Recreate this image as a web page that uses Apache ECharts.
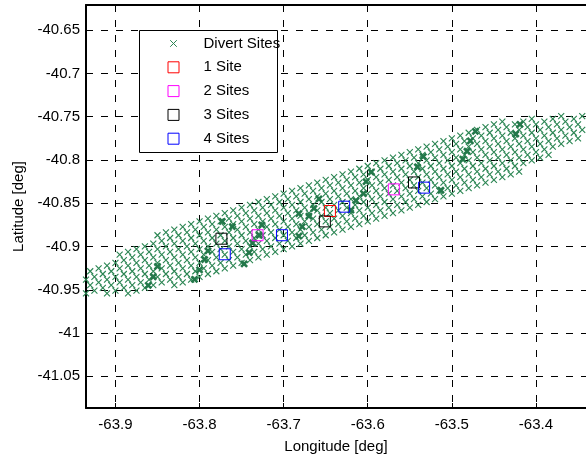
<!DOCTYPE html>
<html>
<head>
<meta charset="utf-8">
<script src="https://cdn.jsdelivr.net/npm/echarts@6/dist/echarts.min.js"></script>
<style>
  html, body { margin: 0; padding: 0; background: #fff; }
  #chart { width: 586px; height: 459px; }
</style>
</head>
<body>
<div id="chart"></div>
<script>
// Tick values shown on each axis
const lonTicks = [-63.9, -63.8, -63.7, -63.6, -63.5, -63.4];
const latTicks = [-41.05, -41, -40.95, -40.9, -40.85, -40.8, -40.75, -40.7, -40.65];

// Divert site grid, one array per row across the footprint [lon, lat]
const divertRow0 = [[-63.85,-40.887],[-63.84,-40.8838],[-63.83,-40.8806],[-63.82,-40.8774],[-63.81,-40.8742],[-63.8,-40.871],[-63.79,-40.8678],[-63.78,-40.8646],[-63.77,-40.8614],[-63.76,-40.8582],[-63.75,-40.855],[-63.74,-40.8518],[-63.73,-40.8486],[-63.72,-40.8454],[-63.71,-40.8422],[-63.7,-40.839],[-63.69,-40.8358],[-63.68,-40.8326],[-63.67,-40.8294],[-63.66,-40.8262],[-63.65,-40.823],[-63.64,-40.8198],[-63.63,-40.8166],[-63.62,-40.8134],[-63.61,-40.8102],[-63.6,-40.807],[-63.59,-40.8038],[-63.58,-40.8006],[-63.57,-40.7974],[-63.56,-40.7942],[-63.55,-40.791],[-63.54,-40.7878],[-63.53,-40.7846],[-63.52,-40.7814],[-63.51,-40.7782],[-63.5,-40.775],[-63.49,-40.7718],[-63.48,-40.7686],[-63.47,-40.7654],[-63.46,-40.7622],[-63.45,-40.759],[-63.44,-40.7558]];
const divertRow1 = [[-63.895,-40.9094],[-63.885,-40.9062],[-63.875,-40.903],[-63.865,-40.8998],[-63.855,-40.8966],[-63.845,-40.8934],[-63.835,-40.8902],[-63.825,-40.887],[-63.815,-40.8838],[-63.805,-40.8806],[-63.795,-40.8774],[-63.785,-40.8742],[-63.775,-40.871],[-63.765,-40.8678],[-63.755,-40.8646],[-63.745,-40.8614],[-63.735,-40.8582],[-63.725,-40.855],[-63.715,-40.8518],[-63.705,-40.8486],[-63.695,-40.8454],[-63.685,-40.8422],[-63.675,-40.839],[-63.665,-40.8358],[-63.655,-40.8326],[-63.645,-40.8294],[-63.635,-40.8262],[-63.625,-40.823],[-63.615,-40.8198],[-63.605,-40.8166],[-63.595,-40.8134],[-63.585,-40.8102],[-63.575,-40.807],[-63.565,-40.8038],[-63.555,-40.8006],[-63.545,-40.7974],[-63.535,-40.7942],[-63.525,-40.791],[-63.515,-40.7878],[-63.505,-40.7846],[-63.495,-40.7814],[-63.485,-40.7782],[-63.475,-40.775],[-63.465,-40.7718],[-63.455,-40.7686],[-63.445,-40.7654],[-63.435,-40.7622],[-63.425,-40.759],[-63.415,-40.7558],[-63.405,-40.7526]];
const divertRow2 = [[-63.93,-40.9286],[-63.92,-40.9254],[-63.91,-40.9222],[-63.9,-40.919],[-63.89,-40.9158],[-63.88,-40.9126],[-63.87,-40.9094],[-63.86,-40.9062],[-63.85,-40.903],[-63.84,-40.8998],[-63.83,-40.8966],[-63.82,-40.8934],[-63.81,-40.8902],[-63.8,-40.887],[-63.79,-40.8838],[-63.78,-40.8806],[-63.77,-40.8774],[-63.76,-40.8742],[-63.75,-40.871],[-63.74,-40.8678],[-63.73,-40.8646],[-63.72,-40.8614],[-63.71,-40.8582],[-63.7,-40.855],[-63.69,-40.8518],[-63.68,-40.8486],[-63.67,-40.8454],[-63.66,-40.8422],[-63.65,-40.839],[-63.64,-40.8358],[-63.63,-40.8326],[-63.62,-40.8294],[-63.61,-40.8262],[-63.6,-40.823],[-63.59,-40.8198],[-63.58,-40.8166],[-63.57,-40.8134],[-63.56,-40.8102],[-63.55,-40.807],[-63.54,-40.8038],[-63.53,-40.8006],[-63.52,-40.7974],[-63.51,-40.7942],[-63.5,-40.791],[-63.49,-40.7878],[-63.48,-40.7846],[-63.47,-40.7814],[-63.46,-40.7782],[-63.45,-40.775],[-63.44,-40.7718],[-63.43,-40.7686],[-63.42,-40.7654],[-63.41,-40.7622],[-63.4,-40.759],[-63.39,-40.7558],[-63.38,-40.7526],[-63.37,-40.7494]];
const divertRow3 = [[-63.935,-40.9382],[-63.925,-40.935],[-63.915,-40.9318],[-63.905,-40.9286],[-63.895,-40.9254],[-63.885,-40.9222],[-63.875,-40.919],[-63.865,-40.9158],[-63.855,-40.9126],[-63.845,-40.9094],[-63.835,-40.9062],[-63.825,-40.903],[-63.815,-40.8998],[-63.805,-40.8966],[-63.795,-40.8934],[-63.785,-40.8902],[-63.775,-40.887],[-63.765,-40.8838],[-63.755,-40.8806],[-63.745,-40.8774],[-63.735,-40.8742],[-63.725,-40.871],[-63.715,-40.8678],[-63.705,-40.8646],[-63.695,-40.8614],[-63.685,-40.8582],[-63.675,-40.855],[-63.665,-40.8518],[-63.655,-40.8486],[-63.645,-40.8454],[-63.635,-40.8422],[-63.625,-40.839],[-63.615,-40.8358],[-63.605,-40.8326],[-63.595,-40.8294],[-63.585,-40.8262],[-63.575,-40.823],[-63.565,-40.8198],[-63.555,-40.8166],[-63.545,-40.8134],[-63.535,-40.8102],[-63.525,-40.807],[-63.515,-40.8038],[-63.505,-40.8006],[-63.495,-40.7974],[-63.485,-40.7942],[-63.475,-40.791],[-63.465,-40.7878],[-63.455,-40.7846],[-63.445,-40.7814],[-63.435,-40.7782],[-63.425,-40.775],[-63.415,-40.7718],[-63.405,-40.7686],[-63.395,-40.7654],[-63.385,-40.7622],[-63.375,-40.759],[-63.365,-40.7558],[-63.355,-40.7526],[-63.345,-40.7494]];
const divertRow4 = [[-63.93,-40.9446],[-63.92,-40.9414],[-63.91,-40.9382],[-63.9,-40.935],[-63.89,-40.9318],[-63.88,-40.9286],[-63.87,-40.9254],[-63.86,-40.9222],[-63.85,-40.919],[-63.84,-40.9158],[-63.83,-40.9126],[-63.82,-40.9094],[-63.81,-40.9062],[-63.8,-40.903],[-63.79,-40.8998],[-63.78,-40.8966],[-63.77,-40.8934],[-63.76,-40.8902],[-63.75,-40.887],[-63.74,-40.8838],[-63.73,-40.8806],[-63.72,-40.8774],[-63.71,-40.8742],[-63.7,-40.871],[-63.69,-40.8678],[-63.68,-40.8646],[-63.67,-40.8614],[-63.66,-40.8582],[-63.65,-40.855],[-63.64,-40.8518],[-63.63,-40.8486],[-63.62,-40.8454],[-63.61,-40.8422],[-63.6,-40.839],[-63.59,-40.8358],[-63.58,-40.8326],[-63.57,-40.8294],[-63.56,-40.8262],[-63.55,-40.823],[-63.54,-40.8198],[-63.53,-40.8166],[-63.52,-40.8134],[-63.51,-40.8102],[-63.5,-40.807],[-63.49,-40.8038],[-63.48,-40.8006],[-63.47,-40.7974],[-63.46,-40.7942],[-63.45,-40.791],[-63.44,-40.7878],[-63.43,-40.7846],[-63.42,-40.7814],[-63.41,-40.7782],[-63.4,-40.775],[-63.39,-40.7718],[-63.38,-40.7686],[-63.37,-40.7654],[-63.36,-40.7622],[-63.35,-40.759]];
const divertRow5 = [[-63.935,-40.9542],[-63.925,-40.951],[-63.915,-40.9478],[-63.905,-40.9446],[-63.895,-40.9414],[-63.885,-40.9382],[-63.875,-40.935],[-63.865,-40.9318],[-63.855,-40.9286],[-63.845,-40.9254],[-63.835,-40.9222],[-63.825,-40.919],[-63.815,-40.9158],[-63.805,-40.9126],[-63.795,-40.9094],[-63.785,-40.9062],[-63.775,-40.903],[-63.765,-40.8998],[-63.755,-40.8966],[-63.745,-40.8934],[-63.735,-40.8902],[-63.725,-40.887],[-63.715,-40.8838],[-63.705,-40.8806],[-63.695,-40.8774],[-63.685,-40.8742],[-63.675,-40.871],[-63.665,-40.8678],[-63.655,-40.8646],[-63.645,-40.8614],[-63.635,-40.8582],[-63.625,-40.855],[-63.615,-40.8518],[-63.605,-40.8486],[-63.595,-40.8454],[-63.585,-40.8422],[-63.575,-40.839],[-63.565,-40.8358],[-63.555,-40.8326],[-63.545,-40.8294],[-63.535,-40.8262],[-63.525,-40.823],[-63.515,-40.8198],[-63.505,-40.8166],[-63.495,-40.8134],[-63.485,-40.8102],[-63.475,-40.807],[-63.465,-40.8038],[-63.455,-40.8006],[-63.445,-40.7974],[-63.435,-40.7942],[-63.425,-40.791],[-63.415,-40.7878],[-63.405,-40.7846],[-63.395,-40.7814],[-63.385,-40.7782],[-63.375,-40.775],[-63.365,-40.7718],[-63.355,-40.7686],[-63.345,-40.7654]];
const divertRow6 = [[-63.91,-40.9542],[-63.9,-40.951],[-63.89,-40.9478],[-63.88,-40.9446],[-63.87,-40.9414],[-63.86,-40.9382],[-63.85,-40.935],[-63.84,-40.9318],[-63.83,-40.9286],[-63.82,-40.9254],[-63.81,-40.9222],[-63.8,-40.919],[-63.79,-40.9158],[-63.78,-40.9126],[-63.77,-40.9094],[-63.76,-40.9062],[-63.75,-40.903],[-63.74,-40.8998],[-63.73,-40.8966],[-63.72,-40.8934],[-63.71,-40.8902],[-63.7,-40.887],[-63.69,-40.8838],[-63.68,-40.8806],[-63.67,-40.8774],[-63.66,-40.8742],[-63.65,-40.871],[-63.64,-40.8678],[-63.63,-40.8646],[-63.62,-40.8614],[-63.61,-40.8582],[-63.6,-40.855],[-63.59,-40.8518],[-63.58,-40.8486],[-63.57,-40.8454],[-63.56,-40.8422],[-63.55,-40.839],[-63.54,-40.8358],[-63.53,-40.8326],[-63.52,-40.8294],[-63.51,-40.8262],[-63.5,-40.823],[-63.49,-40.8198],[-63.48,-40.8166],[-63.47,-40.8134],[-63.46,-40.8102],[-63.45,-40.807],[-63.44,-40.8038],[-63.43,-40.8006],[-63.42,-40.7974],[-63.41,-40.7942],[-63.4,-40.791],[-63.39,-40.7878],[-63.38,-40.7846],[-63.37,-40.7814],[-63.36,-40.7782],[-63.35,-40.775]];
const divertRow7 = [[-63.885,-40.9542],[-63.875,-40.951],[-63.865,-40.9478],[-63.855,-40.9446],[-63.845,-40.9414],[-63.835,-40.9382],[-63.825,-40.935],[-63.815,-40.9318],[-63.805,-40.9286],[-63.795,-40.9254],[-63.785,-40.9222],[-63.775,-40.919],[-63.765,-40.9158],[-63.755,-40.9126],[-63.745,-40.9094],[-63.735,-40.9062],[-63.725,-40.903],[-63.715,-40.8998],[-63.705,-40.8966],[-63.695,-40.8934],[-63.685,-40.8902],[-63.675,-40.887],[-63.665,-40.8838],[-63.655,-40.8806],[-63.645,-40.8774],[-63.635,-40.8742],[-63.625,-40.871],[-63.615,-40.8678],[-63.605,-40.8646],[-63.595,-40.8614],[-63.585,-40.8582],[-63.575,-40.855],[-63.565,-40.8518],[-63.555,-40.8486],[-63.545,-40.8454],[-63.535,-40.8422],[-63.525,-40.839],[-63.515,-40.8358],[-63.505,-40.8326],[-63.495,-40.8294],[-63.485,-40.8262],[-63.475,-40.823],[-63.465,-40.8198],[-63.455,-40.8166],[-63.445,-40.8134],[-63.435,-40.8102],[-63.425,-40.807],[-63.415,-40.8038],[-63.405,-40.8006],[-63.395,-40.7974],[-63.385,-40.7942]];
const divertRow8 = [[-63.83,-40.9446],[-63.82,-40.9414],[-63.81,-40.9382],[-63.8,-40.935],[-63.79,-40.9318],[-63.78,-40.9286],[-63.77,-40.9254],[-63.76,-40.9222],[-63.75,-40.919],[-63.74,-40.9158],[-63.73,-40.9126],[-63.72,-40.9094],[-63.71,-40.9062],[-63.7,-40.903],[-63.69,-40.8998],[-63.68,-40.8966],[-63.67,-40.8934],[-63.66,-40.8902],[-63.65,-40.887],[-63.64,-40.8838],[-63.63,-40.8806],[-63.62,-40.8774],[-63.61,-40.8742],[-63.6,-40.871],[-63.59,-40.8678],[-63.58,-40.8646],[-63.57,-40.8614],[-63.56,-40.8582],[-63.55,-40.855],[-63.54,-40.8518],[-63.53,-40.8486],[-63.52,-40.8454],[-63.51,-40.8422],[-63.5,-40.839],[-63.49,-40.8358],[-63.48,-40.8326],[-63.47,-40.8294],[-63.46,-40.8262],[-63.45,-40.823],[-63.44,-40.8198],[-63.43,-40.8166],[-63.42,-40.8134]];

// Sites that appear more than once in the divert list (drawn heavier)
const repeatedSites = [[-63.861,-40.945],[-63.855,-40.935],[-63.85,-40.923],[-63.806,-40.938],[-63.8,-40.927],[-63.794,-40.915],[-63.79,-40.905],[-63.773,-40.871],[-63.761,-40.877],[-63.747,-40.92],[-63.741,-40.907],[-63.737,-40.896],[-63.729,-40.887],[-63.726,-40.875],[-63.682,-40.888],[-63.678,-40.877],[-63.682,-40.862],[-63.67,-40.865],[-63.664,-40.856],[-63.658,-40.845],[-63.62,-40.858],[-63.614,-40.847],[-63.605,-40.839],[-63.602,-40.825],[-63.596,-40.814],[-63.541,-40.808],[-63.534,-40.796],[-63.513,-40.835],[-63.487,-40.799],[-63.482,-40.79],[-63.478,-40.778],[-63.472,-40.767],[-63.424,-40.77],[-63.419,-40.759]];

// Selected site sets
const oneSite = [[-63.645,-40.859]];
const twoSites = [[-63.731,-40.887],[-63.569,-40.834]];
const threeSites = [[-63.774,-40.891],[-63.651,-40.871],[-63.545,-40.826]];
const fourSites = [[-63.77,-40.909],[-63.702,-40.887],[-63.628,-40.854],[-63.533,-40.832]];

const divertSites = [].concat(divertRow0, divertRow1, divertRow2, divertRow3, divertRow4,
  divertRow5, divertRow6, divertRow7, divertRow8);

const FONT = 'Liberation Sans, Arial, Helvetica, sans-serif';
const GREEN = '#2a8552';
const CROSS = 'path://M0,0L1,1M1,0L0,1';
const CROSS_LEGEND = 'path://M-2,-2M8,8M0,0L6,6M6,0L0,6';
const SQUARE = 'path://M0,0L10,0L10,10L0,10Z';
const fmt = v => String(Math.round(v * 1000) / 1000);

const chart = echarts.init(document.getElementById('chart'), null, { renderer: 'canvas' });

function squareSeries(name, data, color) {
  return {
    name, type: 'scatter', data,
    symbol: 'rect', symbolSize: 11, z: 5,
    itemStyle: { color: 'rgba(0,0,0,0)', borderColor: color, borderWidth: 1, opacity: 1 }
  };
}

chart.setOption({
  animation: false,
  backgroundColor: '#fff',
  textStyle: { fontFamily: FONT },
  grid: { left: 86, top: 5, width: 503, height: 407 },
  xAxis: [{
    type: 'value', min: -63.935, max: -63.3405, position: 'bottom',
    name: 'Longitude [deg]', nameLocation: 'middle', nameGap: 31,
    nameTextStyle: { fontSize: 15, color: '#000', fontFamily: FONT },
    axisLine: { onZero: false, lineStyle: { color: '#000', width: 2 } },
    axisTick: { inside: true, length: 5, customValues: lonTicks, lineStyle: { color: '#000', width: 1 } },
    axisLabel: { customValues: lonTicks, fontSize: 15, color: '#000', margin: 9, formatter: fmt, fontFamily: FONT },
    splitLine: { show: true, lineStyle: { color: '#000', width: 1, type: [7, 8] } }
  }, {
    type: 'value', min: -63.935, max: -63.3405, position: 'top',
    axisLine: { onZero: false, lineStyle: { color: '#000', width: 2 } },
    axisTick: { inside: true, length: 5, customValues: lonTicks, lineStyle: { color: '#000', width: 1 } },
    axisLabel: { show: false },
    splitLine: { show: false }
  }],
  yAxis: [{
    type: 'value', min: -41.0866, max: -40.621, position: 'left',
    name: 'Latitude [deg]', nameLocation: 'middle', nameGap: 60,
    nameTextStyle: { fontSize: 15, color: '#000', fontFamily: FONT },
    axisLine: { onZero: false, lineStyle: { color: '#000', width: 2 } },
    axisTick: { inside: true, length: 5, customValues: latTicks, lineStyle: { color: '#000', width: 1 } },
    axisLabel: { customValues: latTicks, fontSize: 15, color: '#000', margin: 6, formatter: fmt, fontFamily: FONT },
    splitLine: { show: true, lineStyle: { color: '#000', width: 1, type: [7, 8] } }
  }],
  legend: {
    orient: 'vertical', left: 167.5, top: 36, padding: 0,
    itemWidth: 50, itemHeight: 11, itemGap: 8.8, z: 10,
    textStyle: { fontSize: 15, color: '#000', fontFamily: FONT },
    itemStyle: { borderWidth: 1 },
    data: [
      { name: 'Divert Sites', icon: CROSS_LEGEND },
      { name: '1 Site', icon: SQUARE },
      { name: '2 Sites', icon: SQUARE },
      { name: '3 Sites', icon: SQUARE },
      { name: '4 Sites', icon: SQUARE }
    ]
  },
  graphic: [{
    type: 'rect', z: 8, silent: true,
    shape: { x: 139.5, y: 30.5, width: 138, height: 122 },
    style: { fill: '#fff', stroke: '#000', lineWidth: 1 }
  }],
  series: [
    {
      name: 'Divert Sites', type: 'scatter', data: divertSites,
      symbol: CROSS, symbolSize: 6, z: 2,
      itemStyle: { color: GREEN, borderColor: GREEN, borderWidth: 1.1, opacity: 1 }
    },
    {
      name: 'Divert Sites', type: 'scatter', data: repeatedSites,
      symbol: CROSS, symbolSize: 6, z: 3,
      itemStyle: { color: '#23784a', borderColor: '#23784a', borderWidth: 2.6, opacity: 1 }
    },
    squareSeries('1 Site', oneSite, '#ff0000'),
    squareSeries('2 Sites', twoSites, '#ff00ff'),
    squareSeries('3 Sites', threeSites, '#000000'),
    squareSeries('4 Sites', fourSites, '#0000ff')
  ]
});
</script>
</body>
</html>
